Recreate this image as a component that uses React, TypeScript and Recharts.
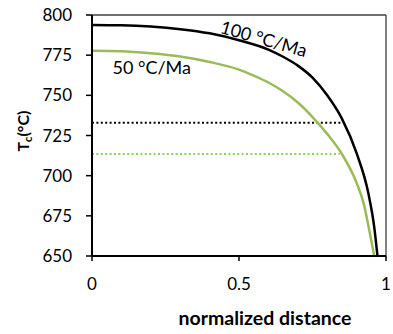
import React from 'react'
import { LineChart, Line, XAxis, YAxis, ReferenceLine } from 'recharts'

// 100 °C/Ma curve (black)
const dist100 = [0, 0.1, 0.2, 0.3, 0.4, 0.5, 0.6, 0.65, 0.7, 0.75, 0.8, 0.85, 0.9, 0.94, 0.96, 0.971]
const tc100 = [793.8, 793.6, 792.8, 791.2, 788.6, 784.3, 778.5, 774.0, 768.5, 761.0, 750.0, 735.5, 714.0, 689.0, 668.0, 650.0]

// 50 °C/Ma curve (green)
const dist50 = [0, 0.1, 0.2, 0.3, 0.4, 0.5, 0.55, 0.6, 0.65, 0.7, 0.75, 0.8, 0.85, 0.9, 0.925, 0.94, 0.96]
const tc50 = [777.8, 777.5, 776.2, 774.2, 770.8, 766.0, 762.3, 758.0, 752.5, 745.5, 736.5, 726.0, 713.5, 695.5, 682.0, 669.0, 650.0]

// dotted reference levels: [100 °C/Ma, 50 °C/Ma]
const refTc = [733, 713.5]
const refEnd = [0.85, 0.843]

const xTicks = [0, 0.5, 1]
const yTicks = [650, 675, 700, 725, 750, 775, 800]

const data100 = dist100.map((x, i) => ({ x, tc: tc100[i] }))
const data50 = dist50.map((x, i) => ({ x, tc: tc50[i] }))
const ref100 = [{ x: 0, tc: refTc[0] }, { x: refEnd[0], tc: refTc[0] }]
const ref50 = [{ x: 0, tc: refTc[1] }, { x: refEnd[1], tc: refTc[1] }]

const font = 'Lato, "Open Sans", sans-serif'
const tickStyle = { fill: '#000', fontSize: 17, fontFamily: font }

export default function App() {
  return (
    <div style={{ position: 'fixed', left: 0, top: 0, width: 393, height: 334, background: '#fff' }}>
      <LineChart width={393} height={334} margin={{ top: 15, right: 7, left: 0, bottom: 38 }}>
        <XAxis
          type="number"
          dataKey="x"
          domain={[0, 1]}
          ticks={xTicks}
          tick={tickStyle}
          tickSize={5}
          tickMargin={17}
          axisLine={{ stroke: '#000', strokeWidth: 2 }}
          tickLine={{ stroke: '#000', strokeWidth: 1.5 }}
          height={40}
        />
        <YAxis
          type="number"
          dataKey="tc"
          domain={[650, 800]}
          ticks={yTicks}
          tick={tickStyle}
          tickSize={6}
          tickMargin={14}
          axisLine={{ stroke: '#000', strokeWidth: 2 }}
          tickLine={{ stroke: '#000', strokeWidth: 1.5 }}
          width={92}
          allowDataOverflow
        />
        <ReferenceLine y={800} stroke="#404040" strokeWidth={1.3} />
        <ReferenceLine x={1} stroke="#404040" strokeWidth={1.3} />
        <Line data={ref100} dataKey="tc" stroke="#000" strokeWidth={2} strokeDasharray="2 2.4" dot={false} isAnimationActive={false} />
        <Line data={ref50} dataKey="tc" stroke="#92D050" strokeWidth={2} strokeDasharray="2 2.4" dot={false} isAnimationActive={false} />
        <Line data={data50} dataKey="tc" type="monotone" stroke="#9BBB59" strokeWidth={2.5} dot={false} isAnimationActive={false} />
        <Line data={data100} dataKey="tc" type="monotone" stroke="#000" strokeWidth={2.5} dot={false} isAnimationActive={false} />
      </LineChart>
      <svg width={393} height={334} style={{ position: 'absolute', left: 0, top: 0, pointerEvents: 'none' }}>
        <text x={112.5} y={74} fontSize={18} fontFamily={font} fill="#000">50 °C/Ma</text>
        <text x={262} y={45} fontSize={18} fontFamily={font} fill="#000" textAnchor="middle" transform="rotate(16 262 45)">100 °C/Ma</text>
        <text x={265} y={325} fontSize={19.5} fontWeight="bold" fontFamily={font} fill="#000" textAnchor="middle">normalized distance</text>
        <text x={29} y={131} fontSize={16} fontWeight="bold" fontFamily={font} fill="#000" textAnchor="middle" transform="rotate(-90 29 131)">
          T<tspan fontSize={11} dy={3}>c</tspan><tspan dy={-3}>(°C)</tspan>
        </text>
      </svg>
    </div>
  )
}
